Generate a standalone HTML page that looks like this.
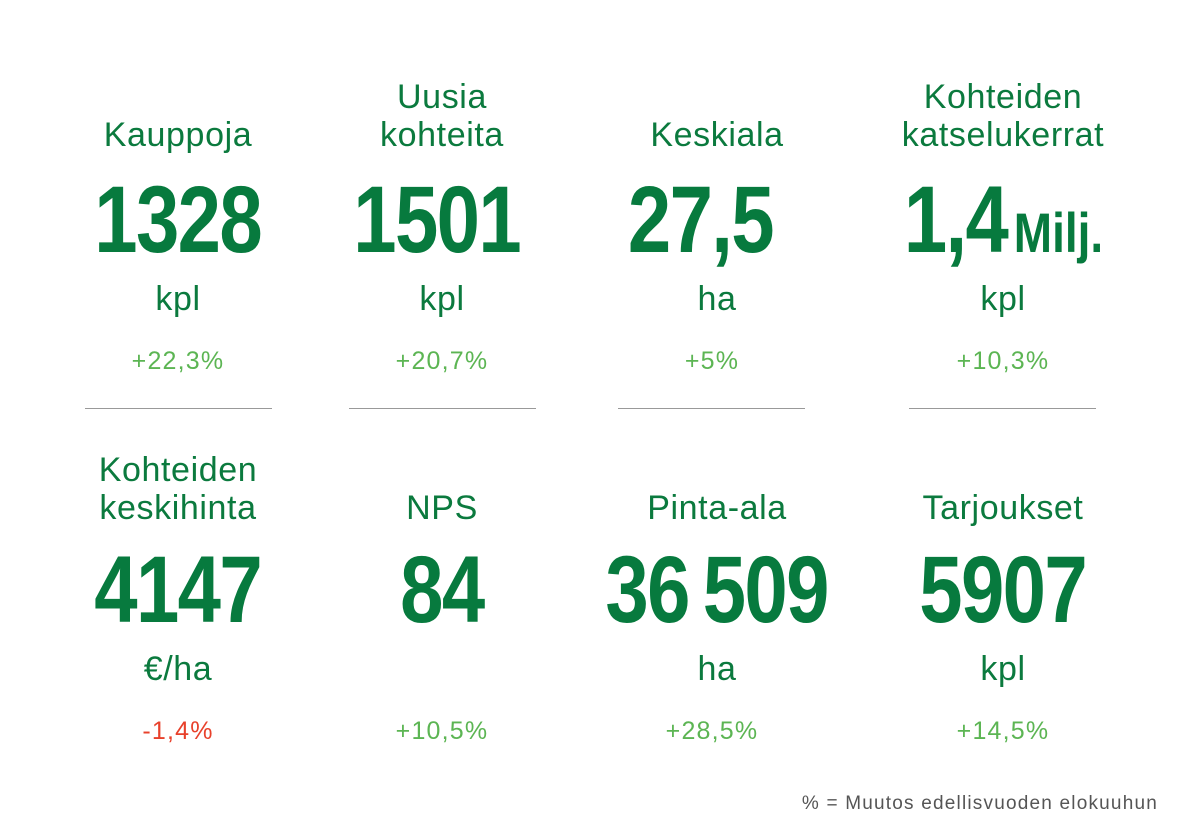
<!DOCTYPE html>
<html><head><meta charset="utf-8"><style>
body{margin:0;width:1200px;height:831px;background:#fff;position:relative;overflow:hidden;font-family:"Liberation Sans",sans-serif}
.t{position:absolute;width:340px;text-align:center;white-space:nowrap}
.l{font-size:34px;line-height:38px;color:#0b7a3e;letter-spacing:0.6px}
.n{font-weight:bold;font-size:95px;line-height:95px;color:#077a3e}
.n span{display:inline-block;transform:scaleX(0.82);transform-origin:center;letter-spacing:-2px}
.n small{font-size:56px;letter-spacing:0;margin-left:8px}
.u{font-size:34px;line-height:38px;color:#0b7a3e;letter-spacing:0.6px}
.p{font-size:25px;line-height:26px;color:#5cb553;letter-spacing:1.2px}
.r{color:#e8412b}
.hr{position:absolute;top:408px;width:187px;height:1px;background:#999}
.f{position:absolute;right:42px;top:793px;font-size:19px;color:#555;letter-spacing:1.2px}
</style></head><body>
<div class="t l" style="left:8px;top:116px">Kauppoja</div>
<div class="t l" style="left:272px;top:78px">Uusia<br>kohteita</div>
<div class="t l" style="left:547px;top:116px">Keskiala</div>
<div class="t l" style="left:833px;top:78px">Kohteiden<br>katselukerrat</div>

<div class="t n" style="left:8px;top:173px"><span>1328</span></div>
<div class="t n" style="left:267px;top:173px"><span>1501</span></div>
<div class="t n" style="left:530px;top:173px"><span>27,5</span></div>
<div class="t n" style="left:833px;top:173px"><span>1,4<small>Milj.</small></span></div>

<div class="t u" style="left:8px;top:280px">kpl</div>
<div class="t u" style="left:272px;top:280px">kpl</div>
<div class="t u" style="left:547px;top:280px">ha</div>
<div class="t u" style="left:833px;top:280px">kpl</div>

<div class="t p" style="left:8px;top:348px">+22,3%</div>
<div class="t p" style="left:272px;top:348px">+20,7%</div>
<div class="t p" style="left:542px;top:348px">+5%</div>
<div class="t p" style="left:833px;top:348px">+10,3%</div>

<div class="hr" style="left:85px"></div>
<div class="hr" style="left:349px"></div>
<div class="hr" style="left:618px"></div>
<div class="hr" style="left:909px"></div>

<div class="t l" style="left:8px;top:451px">Kohteiden<br>keskihinta</div>
<div class="t l" style="left:272px;top:489px">NPS</div>
<div class="t l" style="left:547px;top:489px">Pinta-ala</div>
<div class="t l" style="left:833px;top:489px">Tarjoukset</div>

<div class="t n" style="left:8px;top:543px"><span>4147</span></div>
<div class="t n" style="left:272px;top:543px"><span>84</span></div>
<div class="t n" style="left:547px;top:543px"><span>36&#8201;509</span></div>
<div class="t n" style="left:833px;top:543px"><span>5907</span></div>

<div class="t u" style="left:8px;top:650px">€/ha</div>
<div class="t u" style="left:547px;top:650px">ha</div>
<div class="t u" style="left:833px;top:650px">kpl</div>

<div class="t p r" style="left:8px;top:718px">-1,4%</div>
<div class="t p" style="left:272px;top:718px">+10,5%</div>
<div class="t p" style="left:542px;top:718px">+28,5%</div>
<div class="t p" style="left:833px;top:718px">+14,5%</div>

<div class="f">% = Muutos edellisvuoden elokuuhun</div>
</body></html>
